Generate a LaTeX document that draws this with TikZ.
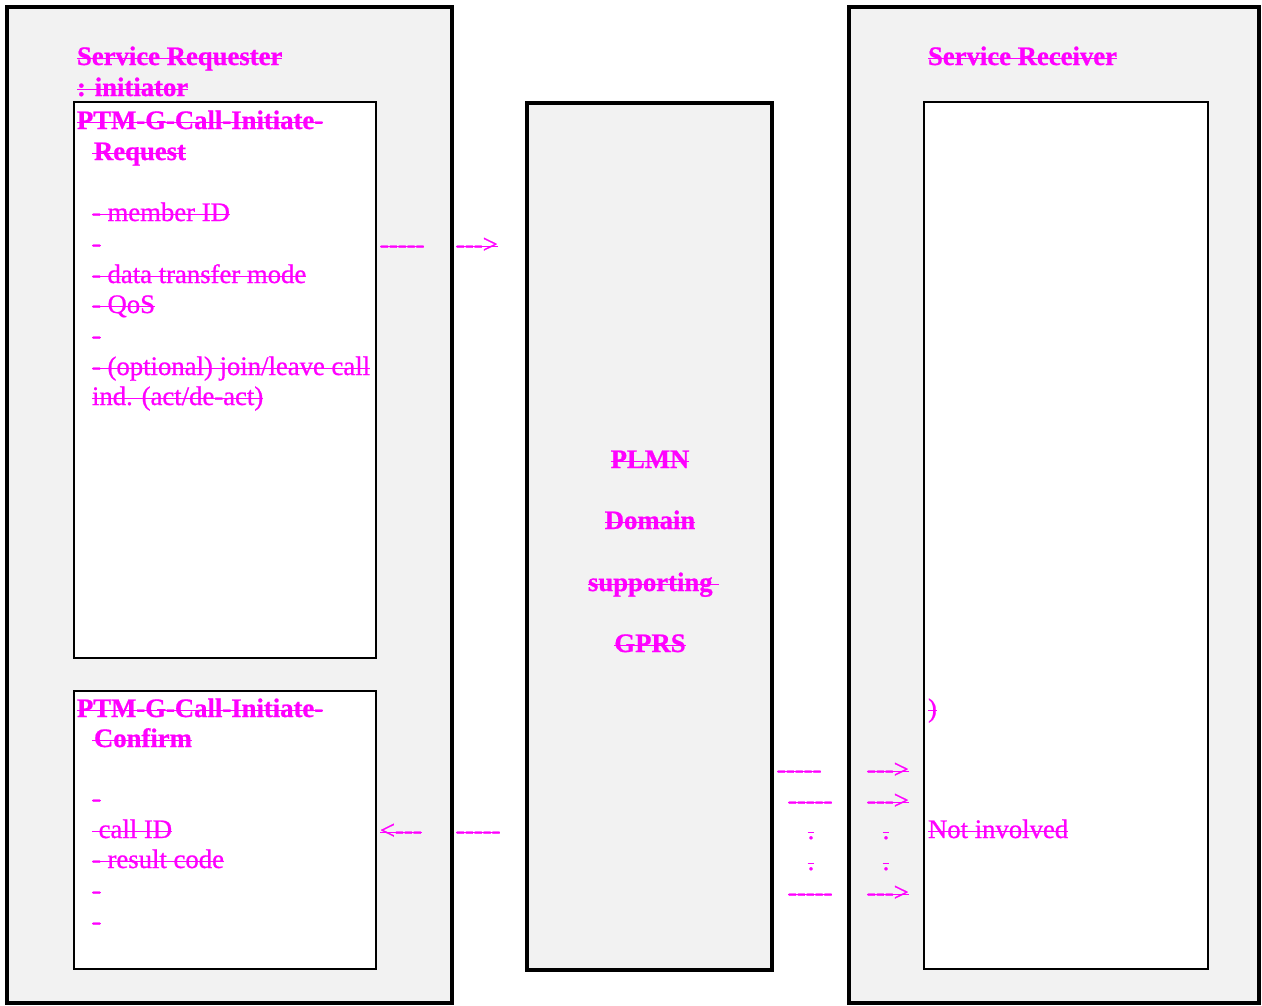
\documentclass[tikz,border=0pt]{standalone}
\usepackage{fontspec}
\setmainfont{Liberation Serif}[FakeBold=0.8]
\definecolor{mag}{HTML}{FF00FF}
\definecolor{panel}{HTML}{F2F2F2}
\newcommand\fsz{\fontsize{26.7}{30.8}\selectfont}
\newsavebox\stbox
\newcommand\strk[1]{\sbox\stbox{#1}\leavevmode\rlap{\rule[\dimexpr0.55ex-0.75pt\relax]{\wd\stbox}{1.5pt}}\usebox\stbox}
\newcommand\hy{-\kern0pt}
\newcommand\dashfive{\hy\hy\hy\hy-}
\newcommand\rarr{\hy\hy\hy>}
\newcommand\larr{<\hy\hy-}
\tikzset{
  outerbox/.style={draw=black, line width=4pt, fill=panel},
  midbox/.style={draw=black, line width=4pt, fill=panel},
  innerbox/.style={draw=black, line width=2pt, fill=white},
  txt/.style={anchor=base west, inner sep=0pt, outer sep=0pt, text=mag, font=\fsz},
  btxt/.style={txt, font=\fsz\bfseries},
  ctxt/.style={txt, anchor=base},
  cbtxt/.style={btxt, anchor=base},
}
\begin{document}
\begin{tikzpicture}[x=1pt, y=-1pt]
\useasboundingbox (0,0) rectangle (1262,1005);
% panels
\draw[outerbox] (7,7) rectangle (452,1003);
\draw[innerbox] (74,102) rectangle (376,658);
\draw[innerbox] (74,691) rectangle (376,969);
\draw[midbox] (527,103) rectangle (772,970);
\draw[outerbox] (849,7) rectangle (1259,1003);
\draw[innerbox] (924,102) rectangle (1208,969);

% left panel titles
\node[btxt] (sreq) at (77,65) {\strk{Service Requester}};
\node[btxt] (init) at (77,96) {\strk{: initiator}};
% request box
\node[btxt] (req1) at (77,129) {\strk{PTM-G-Call-Initiate-}};
\node[btxt] (req2) at (92,160) {\strk{\kern2pt Request}};
\node[txt] (r1) at (92,221) {\strk{- member ID}};
\node[txt] (r2) at (92,252) {\strk{-}};
\node[txt] (r3) at (92,283) {\strk{- data transfer mode}};
\node[txt] (r4) at (92,313) {\strk{- QoS}};
\node[txt] (r5) at (92,344) {\strk{-}};
\node[txt] (r6) at (92,375) {\strk{- (optional) join/leave call}};
\node[txt] (r7) at (92,405) {\strk{ind. (act/de-act)}};
% confirm box
\node[btxt] (cnf1) at (77,717) {\strk{PTM-G-Call-Initiate-}};
\node[btxt] (cnf2) at (92,747) {\strk{\kern2pt Confirm}};
\node[txt] (c1) at (92,807) {\strk{-}};
\node[txt] (c2) at (92,838) {\strk{\ call ID}};
\node[txt] (c3) at (92,868) {\strk{- result code}};
\node[txt] (c4) at (92,899) {\strk{-}};
\node[txt] (c5) at (92,930) {\strk{-}};

% left arrows
\node[txt] (la1) at (380,253) {\strk{\dashfive}};
\node[txt] (la2) at (456,253) {\strk{\rarr}};
\node[txt] (lb1) at (380,839) {\strk{\larr}};
\node[txt] (lb2) at (456,839) {\strk{\dashfive}};

% middle box text
\node[cbtxt] (plmn) at (650,468) {\strk{PLMN}};
\node[cbtxt] (dom) at (650,529) {\strk{Domain}};
\node[btxt] (supp) at (588,591) {\strk{supporting\ }};
\node[cbtxt] (gprs) at (650,652) {\strk{GPRS}};

% right arrows
\node[txt] (ra1) at (777,778) {\strk{\dashfive}};
\node[txt] (ra2) at (867,778) {\strk{\rarr}};
\node[txt] (rb1) at (788,809) {\strk{\dashfive}};
\node[txt] (rb2) at (867,809) {\strk{\rarr}};
\node[ctxt] (rc1) at (811,839) {\strk{.}};
\node[ctxt] (rc2) at (886,839) {\strk{.}};
\node[ctxt] (rd1) at (811,870) {\strk{.}};
\node[ctxt] (rd2) at (886,870) {\strk{.}};
\node[txt] (re1) at (788,901) {\strk{\dashfive}};
\node[txt] (re2) at (867,901) {\strk{\rarr}};

% right panel
\node[btxt] (srec) at (928,65) {\strk{Service Receiver}};
\node[txt] (paren) at (928,717) {\strk{)}};
\node[txt] (notinv) at (928,838) {\strk{Not involved}};
\end{tikzpicture}
\end{document}
